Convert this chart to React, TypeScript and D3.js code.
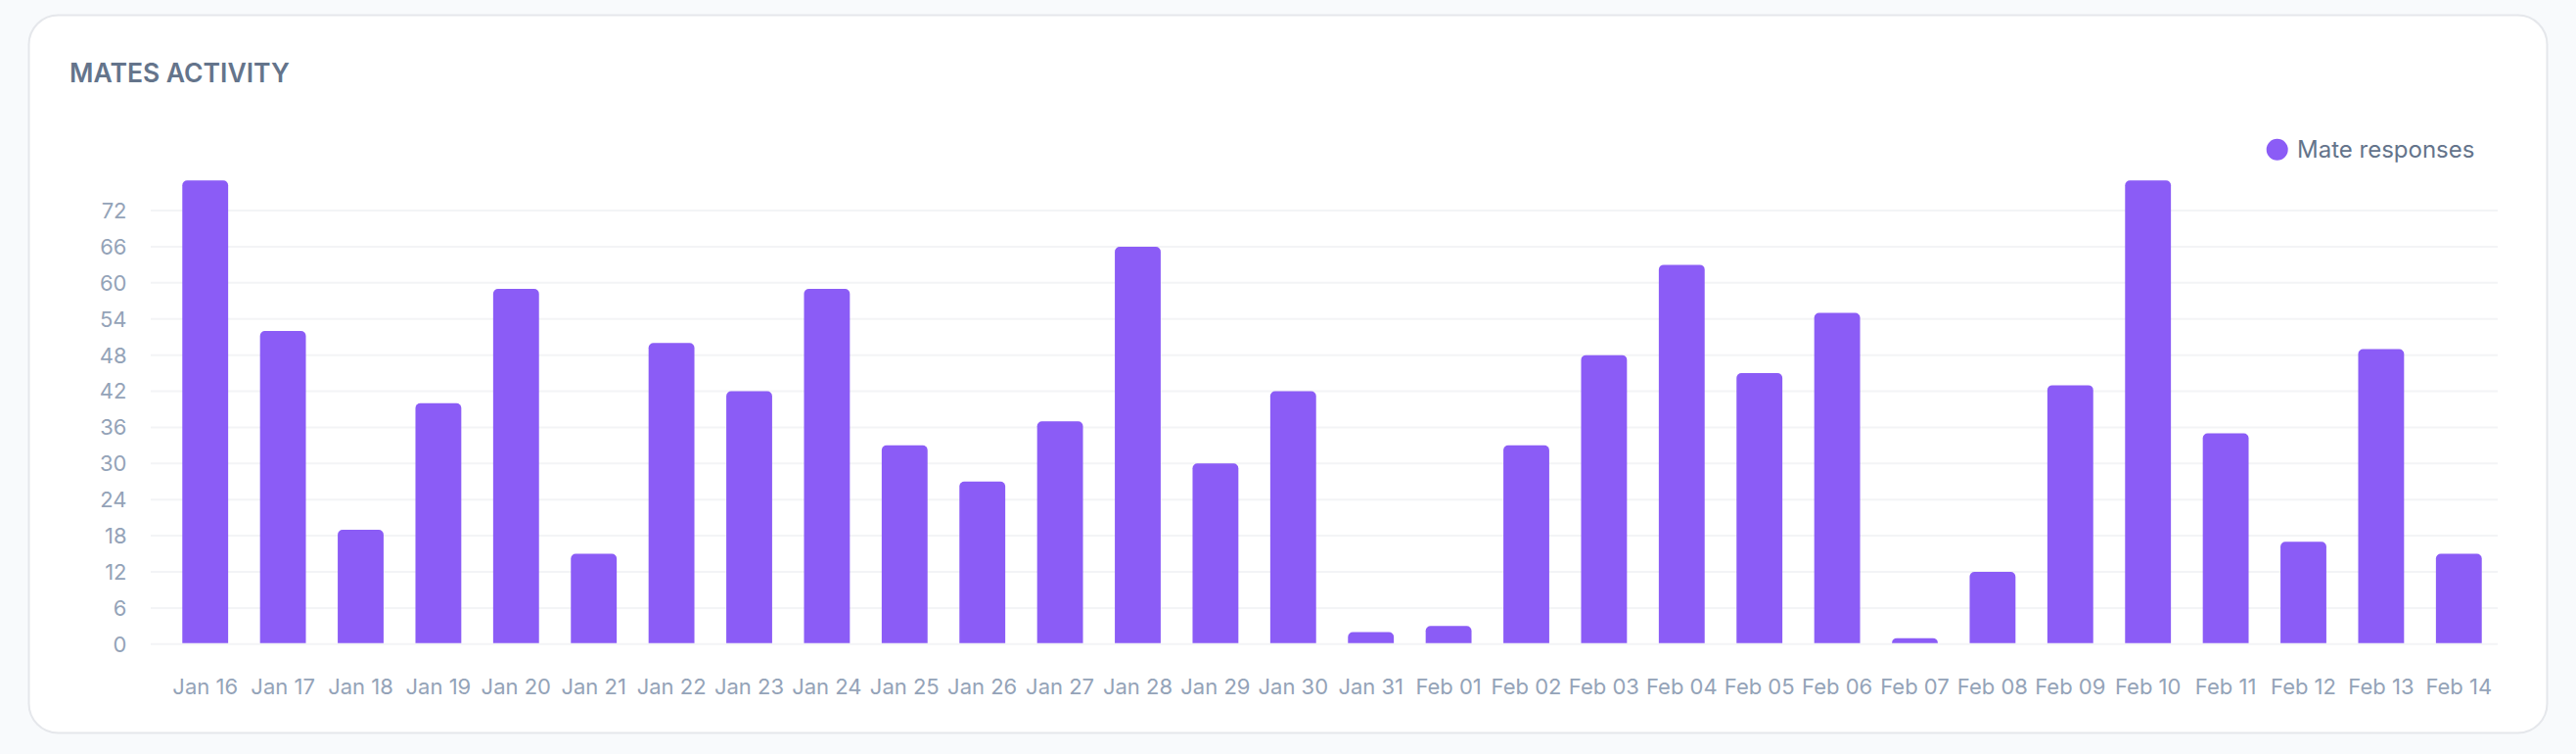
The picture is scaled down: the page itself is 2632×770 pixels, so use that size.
import React from "react";
import * as d3 from "d3";

const categories = [
  "Jan 16", "Jan 17", "Jan 18", "Jan 19", "Jan 20", "Jan 21", "Jan 22", "Jan 23", "Jan 24", "Jan 25",
  "Jan 26", "Jan 27", "Jan 28", "Jan 29", "Jan 30", "Jan 31", "Feb 01", "Feb 02", "Feb 03", "Feb 04",
  "Feb 05", "Feb 06", "Feb 07", "Feb 08", "Feb 09", "Feb 10", "Feb 11", "Feb 12", "Feb 13", "Feb 14",
];
const mateResponses = [
  77, 52, 19, 40, 59, 15, 50, 42, 59, 33,
  27, 37, 66, 30, 42, 2, 3, 33, 48, 63,
  45, 55, 1, 12, 43, 77, 35, 17, 49, 15,
];
const yTicks = [0, 6, 12, 18, 24, 30, 36, 42, 48, 54, 60, 66, 72];
const title = "MATES ACTIVITY";
const seriesName = "Mate responses";

const W = 2632;
const H = 770;
const FONT = "Inter, 'Noto Sans', sans-serif";

function topRoundedBar(x: number, y: number, w: number, h: number, r: number) {
  const rr = Math.min(r, h, w / 2);
  const p = d3.path();
  p.moveTo(x, y + h);
  p.lineTo(x, y + rr);
  p.arcTo(x, y, x + rr, y, rr);
  p.lineTo(x + w - rr, y);
  p.arcTo(x + w, y, x + w, y + rr, rr);
  p.lineTo(x + w, y + h);
  p.closePath();
  return p.toString();
}

export default function App() {
  const y = d3.scaleLinear().domain([0, 77]).range([657.8, 184.3]);
  const x = d3
    .scaleBand<string>()
    .domain(categories)
    .range([170, 2552])
    .paddingInner(0.41)
    .paddingOuter(0.205);
  const gridX0 = 154;
  const gridX1 = 2552;

  return (
    <svg
      width={W}
      height={H}
      style={{ position: "absolute", left: 0, top: 0, display: "block" }}
      xmlns="http://www.w3.org/2000/svg"
    >
      <rect x={0} y={0} width={W} height={H} fill="#f8fafc" />
      <rect
        x={29.5}
        y={15.5}
        width={2573}
        height={733}
        rx={30}
        ry={30}
        fill="#ffffff"
        stroke="#e5e7eb"
        strokeWidth={2}
      />
      <text
        x={71}
        y={84.3}
        fontFamily={FONT}
        fontSize={26.5}
        fontWeight={600}
        fill="#64748b"
      >
        {title}
      </text>

      {/* legend */}
      <circle cx={2326.7} cy={152.7} r={11} fill="#8b5cf6" />
      <text x={2347} y={160.5} fontFamily={FONT} fontSize={24} fill="#64748b">
        {seriesName}
      </text>

      {/* grid + y ticks */}
      {yTicks.map((t) => (
        <g key={t}>
          <line
            x1={gridX0}
            x2={gridX1}
            y1={y(t)}
            y2={y(t)}
            stroke="#f3f4f6"
            strokeWidth={2}
          />
          <text
            x={129.5}
            y={y(t)}
            dy="0.36em"
            textAnchor="end"
            fontFamily={FONT}
            fontSize={22}
            fill="#94a3b8"
          >
            {t}
          </text>
        </g>
      ))}

      {/* bars */}
      {categories.map((c, i) => {
        const bx = x(c) as number;
        const bw = x.bandwidth();
        const top = y(mateResponses[i]);
        const h = y(0) - 1 - top;
        return (
          <path key={c} d={topRoundedBar(bx, top, bw, h, 5)} fill="#8b5cf6" />
        );
      })}

      {/* x labels */}
      {categories.map((c) => (
        <text
          key={c}
          x={(x(c) as number) + x.bandwidth() / 2}
          y={709}
          textAnchor="middle"
          fontFamily={FONT}
          fontSize={22}
          fill="#94a3b8"
        >
          {c}
        </text>
      ))}
    </svg>
  );
}
